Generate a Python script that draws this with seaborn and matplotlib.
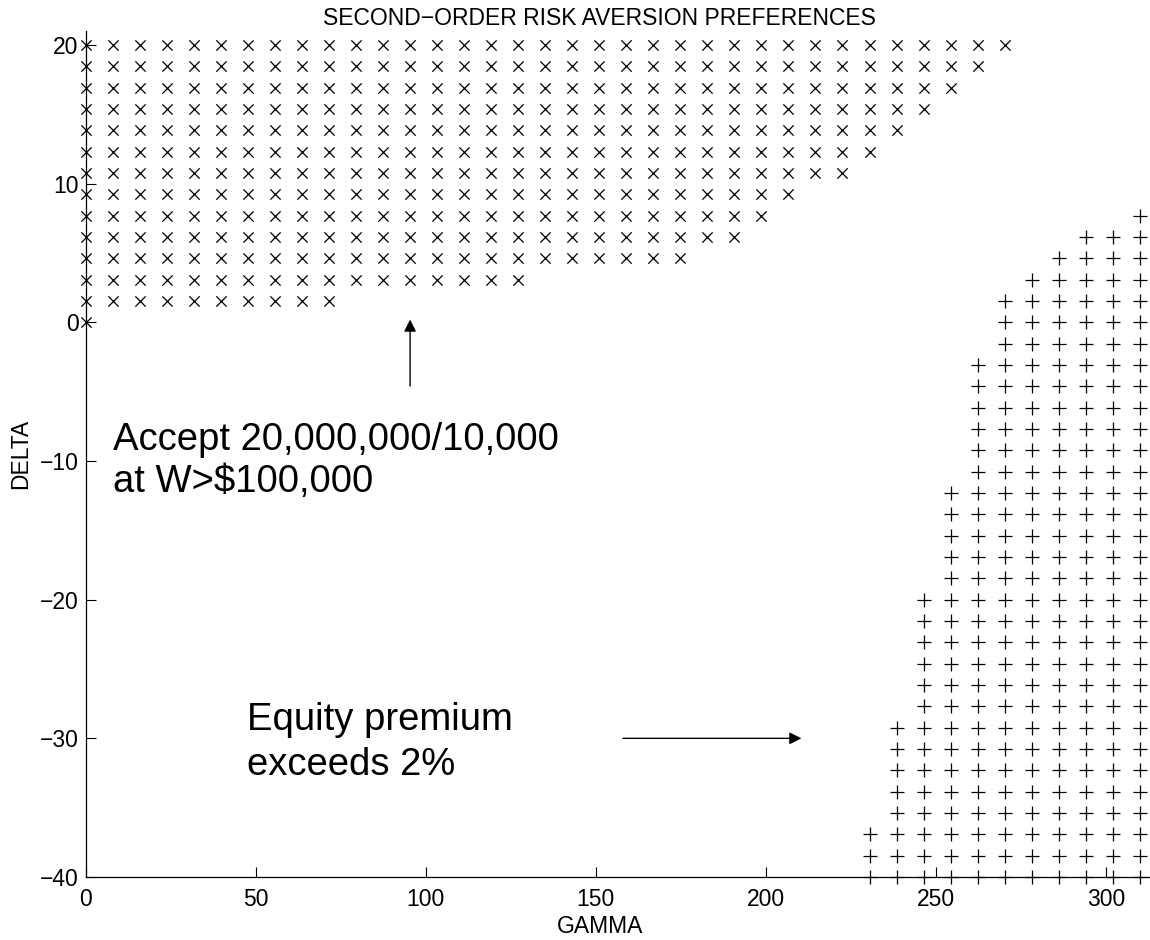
import numpy as np
import pandas as pd
import matplotlib
matplotlib.use("Agg")
import matplotlib.pyplot as plt
import seaborn as sns

# Parameter grid (40 x 40)
gamma_grid = [0.00, 7.95, 15.90, 23.85, 31.79, 39.74, 47.69, 55.64, 63.59, 71.54,
              79.49, 87.44, 95.38, 103.33, 111.28, 119.23, 127.18, 135.13, 143.08, 151.03,
              158.97, 166.92, 174.87, 182.82, 190.77, 198.72, 206.67, 214.62, 222.56, 230.51,
              238.46, 246.41, 254.36, 262.31, 270.26, 278.21, 286.15, 294.10, 302.05, 310.00]
delta_grid = [-40.00, -38.46, -36.92, -35.38, -33.85, -32.31, -30.77, -29.23, -27.69, -26.15,
              -24.62, -23.08, -21.54, -20.00, -18.46, -16.92, -15.38, -13.85, -12.31, -10.77,
              -9.23, -7.69, -6.15, -4.62, -3.08, -1.54, 0.00, 1.54, 3.08, 4.62,
              6.15, 7.69, 9.23, 10.77, 12.31, 13.85, 15.38, 16.92, 18.46, 20.00]

# Gamble accepted: for delta rows 26..39, last accepted gamma column
accept_rows = list(range(26, 40))
accept_last_col = [0, 9, 16, 22, 24, 25, 26, 28, 29, 30, 31, 32, 33, 34]

# Equity premium above 2%: for delta rows 0..31, first gamma column
premium_rows = list(range(0, 32))
premium_first_col = [29, 29, 29, 30, 30, 30, 30, 30, 31, 31, 31, 31, 31, 31, 32, 32,
                     32, 32, 32, 33, 33, 33, 33, 33, 33, 34, 34, 34, 35, 36, 37, 39]

x_ticks = [0, 50, 100, 150, 200, 250, 300]
y_ticks = [-40, -30, -20, -10, 0, 10, 20]

accept_pts = [(gamma_grid[c], delta_grid[r])
              for r, last in zip(accept_rows, accept_last_col)
              for c in range(0, last + 1)]
premium_pts = [(gamma_grid[c], delta_grid[r])
               for r, first in zip(premium_rows, premium_first_col)
               for c in range(first, len(gamma_grid))]
df_accept = pd.DataFrame(accept_pts, columns=["gamma", "delta"])
df_premium = pd.DataFrame(premium_pts, columns=["gamma", "delta"])

sns.set_style("ticks")
plt.rcParams["font.family"] = ["Liberation Sans", "DejaVu Sans"]
plt.rcParams.update({
    "text.color": "black",
    "axes.labelcolor": "black",
    "xtick.color": "black",
    "ytick.color": "black",
    "axes.edgecolor": "black",
})

fig = plt.figure(figsize=(11.5, 9.4), dpi=100)
ax = fig.add_axes([0.0745, 0.067, 0.9255, 0.900])

sns.scatterplot(data=df_accept, x="gamma", y="delta", marker="x", s=55,
                color="black", linewidth=0.9, ax=ax, clip_on=False, zorder=3)
sns.scatterplot(data=df_premium, x="gamma", y="delta", marker="+", s=110,
                color="black", linewidth=0.9, ax=ax, clip_on=False, zorder=3)

ax.set_xlim(0, 313)
ax.set_ylim(-40, 21)
ax.set_xticks(x_ticks)
ax.set_yticks(y_ticks)
ax.tick_params(axis="both", direction="in", length=7, width=0.8,
               labelsize=16.5, colors="black")
ax.tick_params(axis="x", pad=8)
ax.tick_params(axis="y", pad=5)
for side in ("top", "right"):
    ax.spines[side].set_visible(False)
for side in ("left", "bottom"):
    ax.spines[side].set_linewidth(0.9)
    ax.spines[side].set_color("black")

ax.set_xlabel("GAMMA", fontsize=16.5, color="black")
ax.set_ylabel("DELTA", fontsize=16.5, color="black")
ax.xaxis.set_label_coords(0.483, -0.045)
ax.yaxis.set_label_coords(-0.05, 0.5)
ax.set_title("SECOND\u2212ORDER RISK AVERSION PREFERENCES", fontsize=16.5,
             x=0.483, pad=4, color="black")

ax.text(8, -10, "Accept 20,000,000/10,000\nat W>$100,000", fontsize=27.5,
        ha="left", va="center", linespacing=1.22, color="black")
ax.text(47.5, -30.3, "Equity premium\nexceeds 2%", fontsize=27.5,
        ha="left", va="center", linespacing=1.29, color="black")

arrow = dict(arrowstyle="-|>", color="black", lw=1.0, mutation_scale=18,
             shrinkA=0, shrinkB=0)
ax.annotate("", xy=(95.4, 0.2), xytext=(95.4, -4.6), arrowprops=arrow)
ax.annotate("", xy=(210.5, -30.0), xytext=(158.0, -30.0), arrowprops=arrow)

fig.savefig("out.png", dpi=100)
